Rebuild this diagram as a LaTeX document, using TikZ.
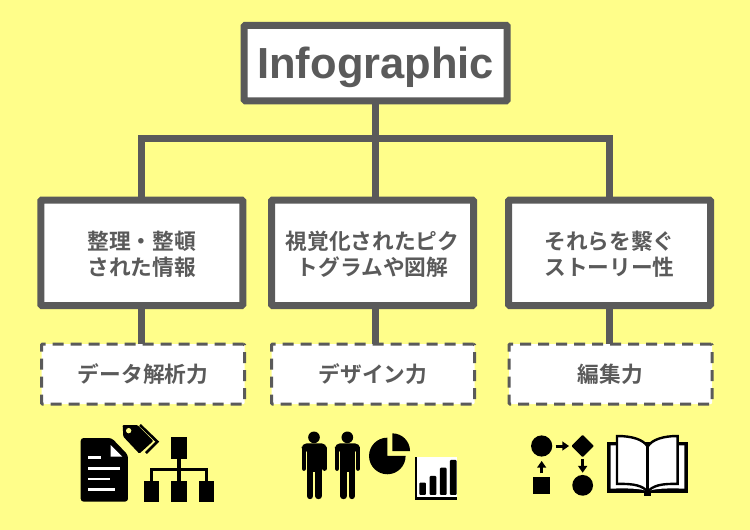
\documentclass[tikz,border=0pt]{standalone}
\usepackage{fontspec}
\setmainfont{Liberation Sans}
\newfontfamily\cjk{Noto Sans CJK JP}[BoldFont={Noto Sans CJK JP Bold}]
\definecolor{bgyellow}{HTML}{FFFE8A}
\definecolor{boxgray}{HTML}{5A5A5A}
\tikzset{
  x=1pt,y=-1pt,
  topbox/.style={draw=boxgray,fill=white,line width=7pt,rounded corners=1pt,outer sep=3.5pt,inner sep=0pt,minimum width=263pt,minimum height=75.5pt,text=boxgray,font=\fontsize{43.5}{44}\selectfont\bfseries},
  midbox/.style={draw=boxgray,fill=white,line width=7pt,rounded corners=1pt,outer sep=3.5pt,inner sep=0pt,minimum width=202pt,minimum height=105.5pt,text=boxgray,align=center,font=\cjk\fontsize{21.7}{26}\selectfont\bfseries},
  skillbox/.style={draw=boxgray,fill=white,line width=3pt,dash pattern=on 11pt off 7pt,rounded corners=1pt,outer sep=0pt,inner sep=0pt,minimum width=203pt,minimum height=60pt,text=boxgray,font=\cjk\fontsize{21.7}{26}\selectfont\bfseries},
  link/.style={draw=boxgray,line width=7pt},
  arrowline/.style={draw=black,line width=3pt},
}
\newcommand{\personicon}[1]{%
  \begin{scope}[shift={(#1,0)}]
    \fill[black] (72,67) circle (17.5);
    \fill[black,rounded corners=5pt] (35,85) rectangle (110,110);
    \fill[black] (51,95) rectangle (95,170);
    \draw[black,line width=4.4pt,line cap=round] (41.5,100) -- (41.5,161);
    \draw[black,line width=4.4pt,line cap=round] (103.5,100) -- (103.5,161);
    \draw[black,line width=6.4pt,line cap=round] (60.5,160) -- (60.5,243);
    \draw[black,line width=6.4pt,line cap=round] (85.5,160) -- (85.5,243);
  \end{scope}}
\begin{document}
\begin{tikzpicture}
\useasboundingbox (0,0) rectangle (750,530);
\fill[bgyellow] (0,0) rectangle (750,530);
\coordinate (bus) at (375.3,138.5);
\node[topbox] (top) at (375.7,63) {\rule{0pt}{40pt}Infographic};
\node[midbox] (left) at (141.75,252.75) {\rule{0pt}{21pt}整理・整頓\\された情報};
\node[midbox] (mid) at (372.5,252.75) {\rule{0pt}{21pt}視覚化されたピク\\トグラムや図解};
\node[midbox] (right) at (609.5,252.75) {\rule{0pt}{21pt}それらを繫ぐ\\ストーリー性};
\node[skillbox] (sleft) at (143,374) {データ解析力};
\node[skillbox] (smid) at (373,374) {デザイン力};
\node[skillbox] (sright) at (610.5,374) {編集力};
\draw[link] (top.south -| bus) -- (bus);
\draw[link] (left.north) |- (bus);
\draw[link] (right.north) |- (bus);
\draw[link] (bus) -- (mid.north -| bus);
\draw[link] (left.south) -- (left.south |- sleft.north);
\draw[link] (mid.south -| bus) -- (bus |- smid.north);
\draw[link] (right.south) -- (right.south |- sright.north);
% document, tag, org chart
\begin{scope}[shift={(60,410)},x=0.3333pt,y=-0.3333pt]
  \fill[black,rounded corners=3pt] (62,84) -- (155,84) -- (204,135) -- (204,275) -- (62,275) -- cycle;
  \fill[white] (152,105) -- (152,140) -- (187,140) -- cycle;
  \foreach \yy/\xx in {143/123,175/181,207/149,239/165}
    \draw[white,line width=2.6pt] (85,\yy) -- (\xx,\yy);
  \fill[black,rounded corners=1pt] (188,45) -- (232,45) -- (280,93) -- (238,131) -- (190,80) -- cycle;
  \fill[bgyellow] (206,62) circle (8);
  \draw[black,line width=2.6pt] (240,45) -- (292,95) -- (258,129);
  \fill[black] (334,82) rectangle (380,147);
  \fill[black] (253,212) rectangle (298,276);
  \fill[black] (334,212) rectangle (380,276);
  \fill[black] (416,212) rectangle (461,276);
  \draw[black,line width=3.4pt] (357,147) -- (357,212);
  \draw[black,line width=3.4pt] (275,212) -- (275,178) -- (439,178) -- (439,212);
\end{scope}
% people, pie, bars
\begin{scope}[shift={(290,415)},x=0.3333pt,y=-0.3333pt]
  \personicon{0}
  \personicon{100}
  \fill[black] (292,123) -- (292,68) arc[start angle=90,end angle=360,radius=18.3pt] -- cycle;
  \fill[black] (307,108) -- (307,55) arc[start angle=90,end angle=0,radius=17.7pt] -- cycle;
  \fill[white] (380,127) rectangle (501,245);
  \fill[black] (374,127) rectangle (380,255);
  \fill[black] (374,246) rectangle (501,255);
  \foreach \xa/\ya in {388/203,419/183,450/158,480/135}
    \fill[black,rounded corners=1pt] (\xa,\ya) rectangle ({\xa+20},240);
\end{scope}
% flowchart and book
\begin{scope}[shift={(520,420)},x=0.3333pt,y=-0.3333pt]
  \fill[black] (65,78) circle (10.6pt);
  \fill[black,rounded corners=1pt] (188,44) -- (222,78) -- (188,112) -- (154,78) -- cycle;
  \fill[black] (188,196) circle (10.4pt);
  \fill[black] (39,171) rectangle (91,222);
  \draw[arrowline] (107,78) -- (132,78);
  \fill[black] (147,78) -- (127,64) -- (127,92) -- cycle;
  \draw[arrowline] (188,118) -- (188,142);
  \fill[black] (188,158) -- (174,138) -- (202,138) -- cycle;
  \draw[arrowline] (65,160) -- (65,138);
  \fill[black] (65,123) -- (51,143) -- (79,143) -- cycle;
  \fill[black] (262,65) rectangle (503,220);
  \fill[white] (272,76) -- (493,76) -- (493,206) .. controls (440,204) and (400,206) .. (383,214) .. controls (366,206) and (325,204) .. (272,206) -- cycle;
  \fill[black] (372,215) rectangle (394,227);
  \draw[black,line width=2.4pt,fill=white] (291,48) .. controls (335,48) and (370,58) .. (383,80) .. controls (396,58) and (431,48) .. (473,48) -- (473,192) .. controls (426,190) and (396,197) .. (383,216) .. controls (370,197) and (340,190) .. (291,192) -- cycle;
  \draw[black,line width=2.4pt] (383,80) -- (383,216);
\end{scope}
\end{tikzpicture}
\end{document}
